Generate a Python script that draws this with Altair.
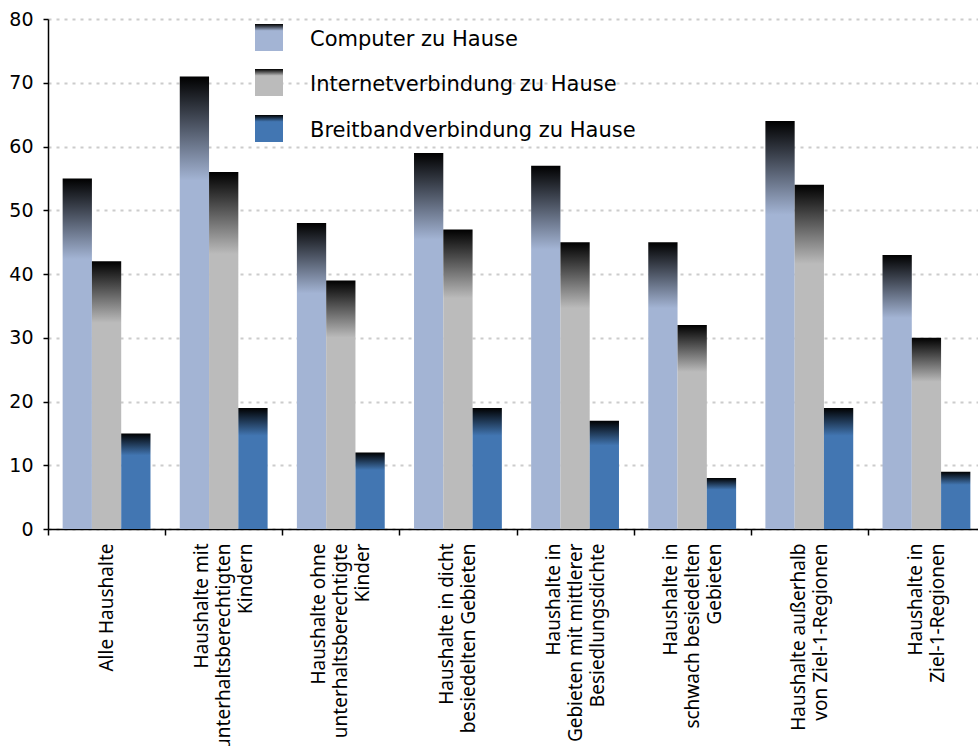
import altair as alt
import pandas as pd

categories = [
    "Alle Haushalte",
    "Haushalte mit|unterhaltsberechtigten|Kindern",
    "Haushalte ohne|unterhaltsberechtigte|Kinder",
    "Haushalte in dicht|besiedelten Gebieten",
    "Haushalte in|Gebieten mit mittlerer|Besiedlungsdichte",
    "Haushalte in|schwach besiedelten|Gebieten",
    "Haushalte außerhalb|von Ziel-1-Regionen",
    "Haushalte in|Ziel-1-Regionen",
]
series = ["Computer zu Hause", "Internetverbindung zu Hause", "Breitbandverbindung zu Hause"]
computer = [55, 71, 48, 59, 57, 45, 64, 43]
internet = [42, 56, 39, 47, 45, 32, 54, 30]
breitband = [15, 19, 12, 19, 17, 8, 19, 9]
colors = ["#a3b4d4", "#bbbbbb", "#4276b2"]
y_ticks = [0, 10, 20, 30, 40, 50, 60, 70, 80]

rows = []
for s, vals in zip(series, [computer, internet, breitband]):
    for c, v in zip(categories, vals):
        rows.append({"Kategorie": c, "Reihe": s, "Wert": v})
df = pd.DataFrame(rows)


def grad(color, stop=0.23):
    return {
        "gradient": "linear",
        "x1": 0, "y1": 0, "x2": 0, "y2": 1,
        "stops": [
            {"offset": 0, "color": "#000000"},
            {"offset": stop, "color": color},
            {"offset": 1, "color": color},
        ],
    }


LH = 22
label_offset = {
    "condition": [
        {"test": "length(split(datum.value, '|')) == 2", "value": -LH / 2},
        {"test": "length(split(datum.value, '|')) == 3", "value": -LH},
    ],
    "value": 0,
}

x_enc = alt.X(
    "Kategorie:N",
    sort=categories,
    scale=alt.Scale(range=[0, 937], paddingInner=0, paddingOuter=0),
    axis=alt.Axis(
        title=None,
        labelExpr="split(datum.label, '|')",
        labelAngle=-90,
        labelFont="Noto Sans",
        labelFontSize=19,
        labelColor="#000000",
        labelLineHeight=LH,
        labelLimit=400,
        labelOverlap=False,
        labelPadding=8,
        labelOffset=label_offset,
        tickBand="extent",
        tickSize=6,
        tickColor="#000000",
        tickWidth=1.5,
        domainColor="#000000",
        domainWidth=1.5,
        grid=False,
    ),
)
y_enc = alt.Y(
    "Wert:Q",
    scale=alt.Scale(domain=[0, 80], nice=False),
    axis=alt.Axis(
        title=None,
        values=y_ticks,
        labelFont="DejaVu Sans",
        labelFontSize=19,
        labelColor="#000000",
        labelPadding=10,
        tickSize=5,
        tickColor="#000000",
        tickWidth=1.5,
        domainColor="#000000",
        domainWidth=1.5,
        grid=True,
        gridColor="#cccccc",
        gridDash=[3, 5],
        gridWidth=2,
    ),
)
xo_enc = alt.XOffset(
    "Reihe:N",
    sort=series,
    scale=alt.Scale(domain=series, paddingInner=0, paddingOuter=0.5),
)

layers = []
for s, col in zip(series, colors):
    layers.append(
        alt.Chart(df)
        .transform_filter(alt.datum.Reihe == s)
        .mark_bar(fill=grad(col))
        .encode(x=x_enc, y=y_enc, xOffset=xo_enc)
    )

# manual legend (inside plot area, top left)
leg_tops = [5, 50, 96]
for s, col, top in zip(series, colors, leg_tops):
    one = pd.DataFrame({"Reihe": [s]})
    layers.append(
        alt.Chart(one)
        .mark_rect(fill=grad(col, 0.25))
        .encode(
            x=alt.value(207), x2=alt.value(235),
            y=alt.value(top), y2=alt.value(top + 27),
        )
    )
    layers.append(
        alt.Chart(one)
        .mark_text(align="left", baseline="middle", font="DejaVu Sans", fontSize=21, color="#000000")
        .encode(
            x=alt.value(262), y=alt.value(top + 16),
            text="Reihe:N",
        )
    )

chart = (
    alt.layer(*layers)
    .properties(
        width=930,
        height=510,
        padding={"left": 48, "top": 19, "right": 0, "bottom": 217},
        autosize=alt.AutoSizeParams(type="none"),
    )
    .configure_view(strokeWidth=0)
)

chart.save("out.html", embed_options={"renderer": "svg", "actions": False})
